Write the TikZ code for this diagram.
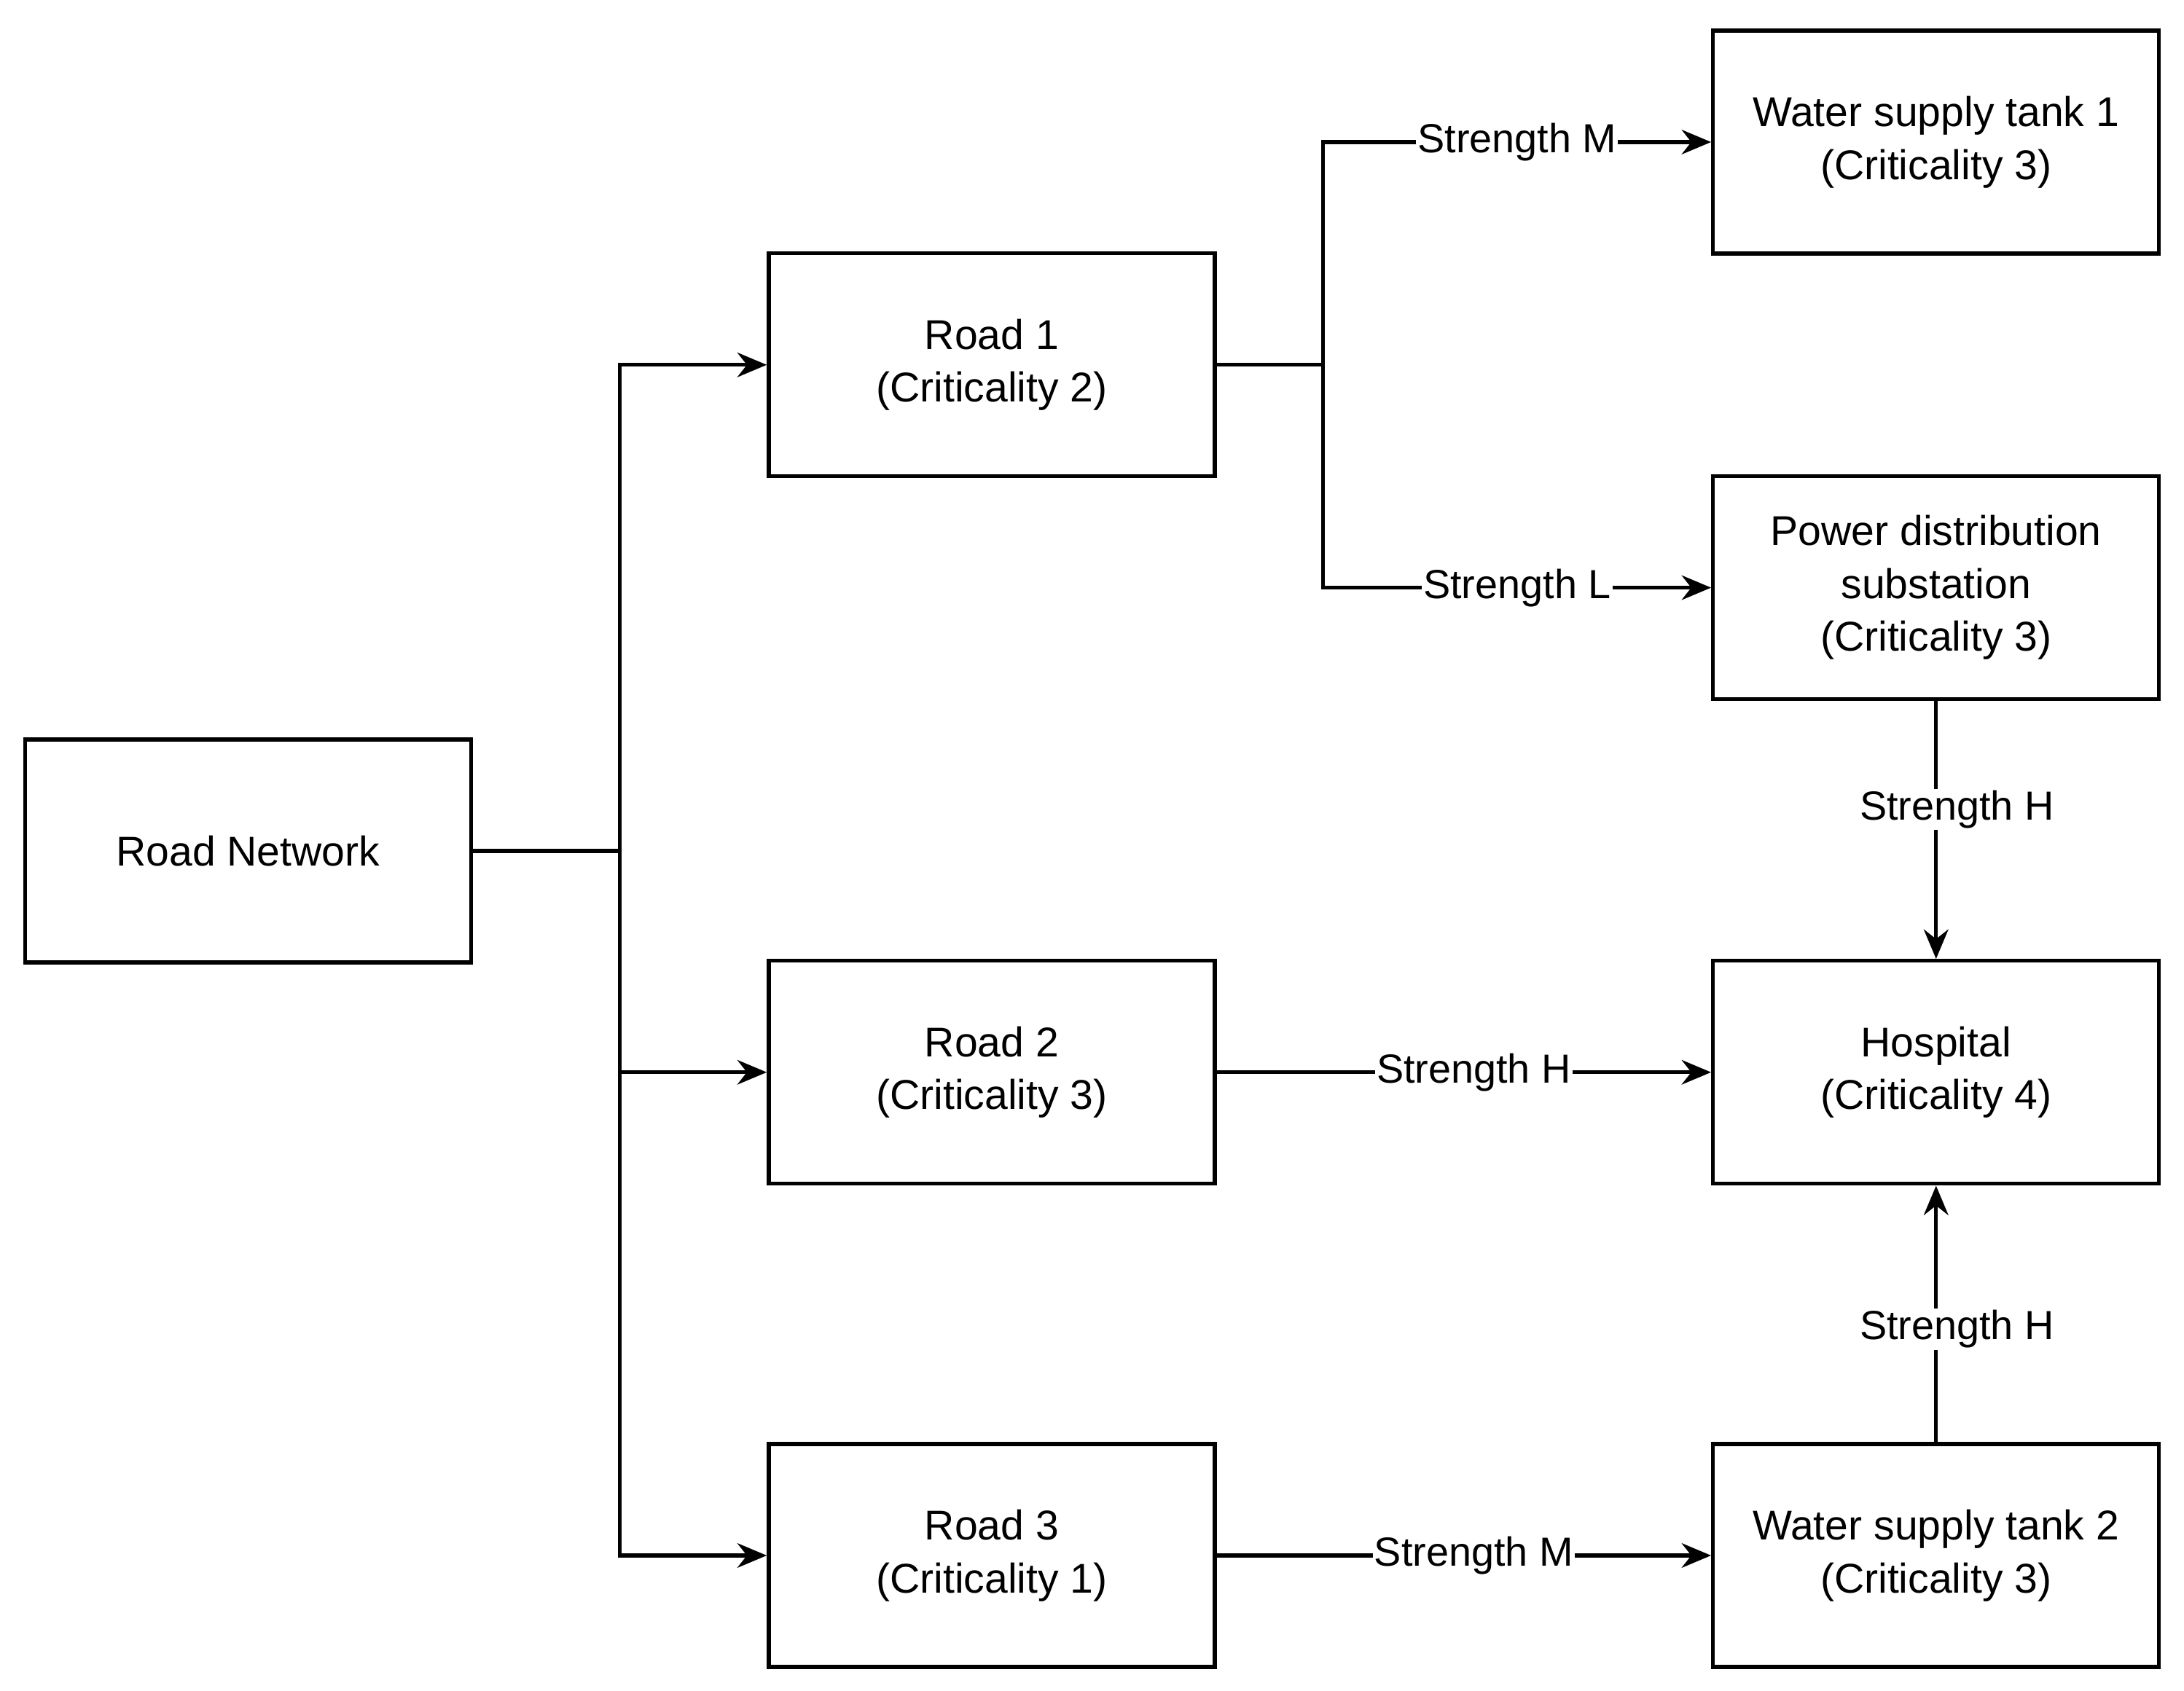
\documentclass[tikz,border=0pt]{standalone}
\usepackage{fontspec}
\setmainfont{Liberation Sans}
\usetikzlibrary{arrows.meta}
\begin{document}
\begin{tikzpicture}[x=0.01cm,y=-0.01cm,
    box/.style={rectangle, draw, line width=0.8pt, minimum width=3.2cm, minimum height=1.6cm, align=center, font=\fontsize{8.5}{10.8}\selectfont},
    line/.style={line width=0.8pt},
    arrow/.style={line width=0.8pt, -{Stealth[length=6pt,width=5pt]}},
    lbl/.style={fill=white, inner sep=0.3pt, font=\fontsize{8.3}{10}\selectfont}
]
\useasboundingbox (0,0) rectangle (1568,1214);
% Boxes
\node[box] (net) at (178,611) {Road Network};
\node[box] (r1) at (712,262) {Road 1\\(Criticality 2)};
\node[box] (r2) at (712,770) {Road 2\\(Criticality 3)};
\node[box] (r3) at (712,1117) {Road 3\\(Criticality 1)};
\node[box] (w1) at (1390,102) {Water supply tank 1\\(Criticality 3)};
\node[box] (pw) at (1390,422) {Power distribution\\substation\\(Criticality 3)};
\node[box] (hos) at (1390,770) {Hospital\\(Criticality 4)};
\node[box] (w2) at (1390,1117) {Water supply tank 2\\(Criticality 3)};
% Junctions
\coordinate (j0) at (445,611);
\coordinate (j1) at (950,262);
% Connectors
\draw[line] (net) -- (j0);
\draw[arrow] (j0) |- (r1);
\draw[arrow] (j0) |- (r2);
\draw[arrow] (j0) |- (r3);
\draw[line] (r1) -- (j1);
\draw[arrow] (j1) |- node[lbl, pos=0.75] {Strength M} (w1);
\draw[arrow] (j1) |- node[lbl, pos=0.75] {Strength L} (pw);
\draw[arrow] (r2) -- node[lbl, pos=0.52] {Strength H} (hos);
\draw[arrow] (r3) -- node[lbl, pos=0.52] {Strength M} (w2);
\draw[arrow] (pw) -- node[lbl, pos=0.42, xshift=0.15cm] {Strength H} (hos);
\draw[arrow] (w2) -- node[lbl, pos=0.44, xshift=0.15cm] {Strength H} (hos);
\end{tikzpicture}
\end{document}
